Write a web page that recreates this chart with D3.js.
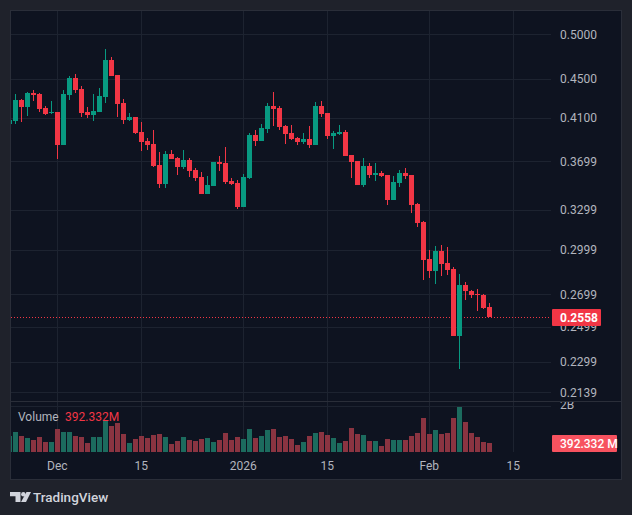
<!DOCTYPE html>
<html><head><meta charset="utf-8">
<script src="https://cdn.jsdelivr.net/npm/d3@7"></script>
<style>
html,body{margin:0;padding:0;background:#1f222b;}
svg{display:block;font-family:Roboto,"Noto Sans",sans-serif;}
</style>
</head><body>
<svg id="c" width="632" height="515"></svg>
<script>
// ---------- DATA ----------
const dates = [
"2025-11-23","2025-11-24","2025-11-25","2025-11-26","2025-11-27","2025-11-28","2025-11-29","2025-11-30",
"2025-12-01","2025-12-02","2025-12-03","2025-12-04","2025-12-05","2025-12-06","2025-12-07","2025-12-08","2025-12-09","2025-12-10",
"2025-12-11","2025-12-12","2025-12-13","2025-12-14","2025-12-15","2025-12-16","2025-12-17","2025-12-18","2025-12-19","2025-12-20",
"2025-12-21","2025-12-22","2025-12-23","2025-12-24","2025-12-25","2025-12-26","2025-12-27","2025-12-28","2025-12-29","2025-12-30","2025-12-31",
"2026-01-01","2026-01-02","2026-01-03","2026-01-04","2026-01-05","2026-01-06","2026-01-07","2026-01-08","2026-01-09","2026-01-10",
"2026-01-11","2026-01-12","2026-01-13","2026-01-14","2026-01-15","2026-01-16","2026-01-17","2026-01-18","2026-01-19","2026-01-20",
"2026-01-21","2026-01-22","2026-01-23","2026-01-24","2026-01-25","2026-01-26","2026-01-27","2026-01-28","2026-01-29","2026-01-30","2026-01-31",
"2026-02-01","2026-02-02","2026-02-03","2026-02-04","2026-02-05","2026-02-06","2026-02-07","2026-02-08","2026-02-09","2026-02-10","2026-02-11"
];
const opens = [
0.4042,0.4073,0.4279,0.4211,0.4350,0.4340,0.4201,0.4146,
0.4158,0.3845,0.4330,0.4508,0.4392,0.4158,0.4129,0.4158,0.4309,0.4704,
0.4540,0.4248,0.4080,0.4109,0.3966,0.3882,0.3855,0.3667,0.3506,0.3764,
0.3729,0.3650,0.3711,0.3624,0.3564,0.3423,0.3489,0.3693,0.3685,0.3531,0.3514,
0.3319,0.3556,0.3938,0.3882,0.3994,0.4218,0.4198,0.4023,0.3956,0.3910,
0.3873,0.3900,0.3845,0.4218,0.4149,0.3928,0.3947,0.3966,0.3755,0.3702,
0.3497,0.3659,0.3581,0.3598,0.3581,0.3375,0.3514,0.3598,0.3581,0.3343,0.3203,
0.2934,0.2852,0.2990,0.2907,0.2865,0.2444,0.2759,0.2720,0.2700,0.2694,0.2618
];
const highs = [
0.4100,0.4340,0.4289,0.4361,0.4381,0.4350,0.4218,0.4268,
0.4158,0.4381,0.4529,0.4551,0.4423,0.4208,0.4340,0.4402,0.4829,0.4738,
0.4540,0.4289,0.4149,0.4109,0.4061,0.3910,0.3985,0.3782,0.3791,0.3800,
0.3737,0.3800,0.3729,0.3641,0.3607,0.3573,0.3693,0.3746,0.3827,0.3556,0.3539,
0.3590,0.3956,0.3985,0.4042,0.4248,0.4361,0.4218,0.4032,0.4032,0.3919,
0.3956,0.4023,0.4258,0.4268,0.4149,0.3975,0.4032,0.3985,0.3755,0.3702,
0.3729,0.3685,0.3685,0.3615,0.3581,0.3573,0.3624,0.3641,0.3581,0.3351,0.3211,
0.2998,0.3026,0.3033,0.3019,0.2879,0.2832,0.2778,0.2726,0.2733,0.2700,0.2643
];
const lows = [
0.4032,0.4042,0.4064,0.4122,0.4272,0.4161,0.4129,0.4139,
0.3720,0.3845,0.4279,0.4350,0.4109,0.4100,0.4071,0.4158,0.4248,0.4529,
0.4109,0.4042,0.4071,0.3947,0.3791,0.3800,0.3650,0.3473,0.3473,0.3720,
0.3581,0.3633,0.3564,0.3531,0.3423,0.3423,0.3489,0.3615,0.3506,0.3497,0.3304,
0.3319,0.3547,0.3836,0.3882,0.3956,0.4023,0.3985,0.3855,0.3891,0.3845,
0.3855,0.3818,0.3845,0.4109,0.3900,0.3809,0.3938,0.3746,0.3556,0.3497,
0.3481,0.3556,0.3531,0.3564,0.3335,0.3375,0.3481,0.3547,0.3273,0.3166,0.2792,
0.2805,0.2765,0.2818,0.2825,0.2444,0.2260,0.2662,0.2675,0.2594,0.2606,0.2558
];
const closes = [
0.4080,0.4279,0.4211,0.4350,0.4330,0.4188,0.4139,0.4158,
0.3845,0.4340,0.4508,0.4381,0.4149,0.4129,0.4168,0.4319,0.4704,0.4529,
0.4238,0.4080,0.4109,0.3956,0.3873,0.3845,0.3659,0.3506,0.3764,0.3720,
0.3650,0.3711,0.3615,0.3556,0.3423,0.3497,0.3693,0.3676,0.3522,0.3506,0.3319,
0.3564,0.3938,0.3882,0.4004,0.4218,0.4188,0.4013,0.3947,0.3900,0.3873,
0.3900,0.3845,0.4218,0.4139,0.3928,0.3956,0.3966,0.3746,0.3693,0.3497,
0.3659,0.3581,0.3598,0.3573,0.3375,0.3522,0.3598,0.3573,0.3335,0.3196,0.2927,
0.2852,0.2990,0.2900,0.2859,0.2444,0.2759,0.2720,0.2694,0.2694,0.2612,0.2558
];
// volume in millions
const volumes = [
696,870,696,608,522,653,435,435,
1000,870,870,696,653,391,653,653,1348,1130,
1261,782,391,565,696,608,739,782,653,348,
479,653,522,479,565,608,435,522,826,522,653,
565,1000,608,696,956,1000,653,696,565,305,
435,696,826,870,739,608,391,479,1044,782,
739,479,479,260,565,522,522,522,696,826,1478,
782,956,782,826,1478,1957,1304,826,653,435,392.332
];
const priceTicks = [0.5000,0.4500,0.4100,0.3699,0.3299,0.2999,0.2699,0.2499,0.2299,0.2139];
const priceTickLabels = ["0.5000","0.4500","0.4100","0.3699","0.3299","0.2999","0.2699","0.2499","0.2299","0.2139"];
const timeTicks = ["2025-12-01","2025-12-15","2026-01-01","2026-01-15","2026-02-01","2026-02-15"];
const timeTickLabels = ["Dec","15","2026","15","Feb","15"];
const volumeTicks = [2000];
const volumeTickLabels = ["2B"];
const lastPrice = 0.2558;
const lastPriceLabel = "0.2558";
const lastVolumeLabel = "392.332 M";
const volumeLegendValue = "392.332M";

// ---------- LAYOUT ----------
const C = {
  outer:"#1f222b", bg:"#0e1320", border:"#2a2e39", grid:"#1d2330",
  text:"#b2b5be", up:"#089981", down:"#f23645", upVol:"#1c6b5e", downVol:"#8a3441"
};
const L = {left:10, right:551, top:10, paneBottom:401, volBottom:452, outerRight:621, outerBottom:479};

const parse = d3.utcParse("%Y-%m-%d");
const data = dates.map((d,i)=>({date:parse(d),o:opens[i],h:highs[i],l:lows[i],c:closes[i],v:volumes[i]}));

const svg = d3.select("#c");
svg.append("rect").attr("width",632).attr("height",515).attr("fill",C.outer);
svg.append("rect").attr("x",L.left+0.5).attr("y",L.top+0.5)
  .attr("width",L.outerRight-L.left).attr("height",L.outerBottom-L.top)
  .attr("fill",C.bg).attr("stroke",C.border);

const x = d3.scaleUtc()
  .domain([parse("2025-11-23"), parse("2026-02-21")])
  .range([9.3, 549.3]);
const y = d3.scaleLog().domain([0.2095,0.5297]).range([L.paneBottom, L.top]);
const yv = d3.scaleLinear().domain([0,2000]).range([L.volBottom, 406]);

const defs = svg.append("defs");
defs.append("clipPath").attr("id","pane").append("rect")
  .attr("x",L.left+1).attr("y",L.top+1).attr("width",L.right-L.left-1).attr("height",L.paneBottom-L.top-1);
defs.append("clipPath").attr("id","vpane").append("rect")
  .attr("x",L.left+1).attr("y",L.paneBottom+1).attr("width",L.right-L.left-1).attr("height",L.volBottom-L.paneBottom);
defs.append("clipPath").attr("id","vaxis").append("rect")
  .attr("x",L.right).attr("y",L.paneBottom+1).attr("width",70).attr("height",60);

// grid
const g = svg.append("g");
g.selectAll(".hg").data(priceTicks).join("line")
  .attr("x1",L.left+1).attr("x2",L.right)
  .attr("y1",d=>Math.round(y(d))+0.5).attr("y2",d=>Math.round(y(d))+0.5)
  .attr("stroke",C.grid);
g.selectAll(".vg").data(timeTicks).join("line")
  .attr("x1",d=>Math.round(x(parse(d)))+0.5).attr("x2",d=>Math.round(x(parse(d)))+0.5)
  .attr("y1",L.top+1).attr("y2",L.volBottom)
  .attr("stroke",C.grid);
g.selectAll(".vgh").data(volumeTicks).join("line")
  .attr("x1",L.left+1).attr("x2",L.right)
  .attr("y1",d=>Math.round(yv(d))+0.5).attr("y2",d=>Math.round(yv(d))+0.5)
  .attr("stroke",C.grid);
// pane separator
svg.append("line").attr("x1",L.left+1).attr("x2",L.outerRight)
  .attr("y1",L.paneBottom+0.5).attr("y2",L.paneBottom+0.5).attr("stroke",C.border);

// last price dotted line
svg.append("line").attr("clip-path","url(#pane)")
  .attr("x1",L.left+1).attr("x2",L.right)
  .attr("y1",Math.round(y(lastPrice))+0.5).attr("y2",Math.round(y(lastPrice))+0.5)
  .attr("stroke",C.down).attr("stroke-dasharray","1,2");

// candles
const cg = svg.append("g").attr("clip-path","url(#pane)");
const cand = cg.selectAll("g").data(data).join("g");
cand.append("rect")
  .attr("x",d=>Math.round(x(d.date)-2.5)+2).attr("width",1)
  .attr("y",d=>Math.round(y(d.h))).attr("height",d=>Math.max(1,Math.round(y(d.l))-Math.round(y(d.h))))
  .attr("fill",d=>d.c>=d.o?C.up:C.down);
cand.append("rect")
  .attr("x",d=>Math.round(x(d.date)-2.5)).attr("width",5)
  .attr("y",d=>Math.round(y(Math.max(d.o,d.c))))
  .attr("height",d=>Math.max(1,Math.round(y(Math.min(d.o,d.c)))-Math.round(y(Math.max(d.o,d.c)))))
  .attr("fill",d=>d.c>=d.o?C.up:C.down);

// volume
svg.append("g").attr("clip-path","url(#vpane)")
  .selectAll("rect").data(data).join("rect")
  .attr("x",d=>Math.round(x(d.date)-2.5)).attr("width",5)
  .attr("y",d=>Math.round(yv(d.v))).attr("height",d=>L.volBottom-Math.round(yv(d.v)))
  .attr("fill",d=>d.c>=d.o?C.upVol:C.downVol);

// price axis labels
svg.append("g").selectAll("text").data(priceTicks).join("text")
  .attr("x",560).attr("y",d=>y(d)).attr("dy","0.36em")
  .attr("fill",C.text).attr("font-size",12)
  .text((d,i)=>priceTickLabels[i]);
// volume axis labels
svg.append("g").attr("clip-path","url(#vaxis)").selectAll("text").data(volumeTicks).join("text")
  .attr("x",560).attr("y",d=>yv(d)-1).attr("dy","0.36em")
  .attr("fill",C.text).attr("font-size",12)
  .text((d,i)=>volumeTickLabels[i]);

// last price box
const yl = Math.round(y(lastPrice))+0.5;
svg.append("rect").attr("x",552).attr("y",yl-8.5).attr("width",49).attr("height",17).attr("rx",1).attr("fill",C.down);
svg.append("text").attr("x",560).attr("y",yl).attr("dy","0.36em").attr("fill","#ffffff")
  .attr("font-size",12).attr("font-weight",700).text(lastPriceLabel);

// last volume box
const yvl = Math.round(yv(volumes[volumes.length-1]));
svg.append("rect").attr("x",552).attr("y",yvl-8).attr("width",65).attr("height",17).attr("rx",1).attr("fill","#f7525f");
svg.append("text").attr("x",560).attr("y",yvl+0.5).attr("dy","0.36em").attr("fill","#ffffff")
  .attr("font-size",12).attr("font-weight",500).text(lastVolumeLabel);

// time axis labels
svg.append("g").selectAll("text").data(timeTicks).join("text")
  .attr("x",d=>x(parse(d))).attr("y",466).attr("dy","0.36em").attr("text-anchor","middle")
  .attr("fill",C.text).attr("font-size",12)
  .text((d,i)=>timeTickLabels[i]);

// volume legend
const lg = svg.append("text").attr("x",18).attr("y",417).attr("dy","0.36em").attr("font-size",12);
lg.append("tspan").attr("fill",C.text).text("Volume");
lg.append("tspan").attr("x",65).attr("fill",C.down).text(volumeLegendValue);

// TradingView logo
const logo = svg.append("g").attr("fill","#d1d4dc");
logo.append("path").attr("d","M10,492 H20.5 V502 H15.5 V496.2 H10 Z");
logo.append("circle").attr("cx",23.3).attr("cy",494.2).attr("r",2.2);
logo.append("path").attr("d","M26.5,492 H31 L26,502 H21 Z");
svg.append("text").attr("x",33).attr("y",497).attr("dy","0.36em").attr("font-size",13.5)
  .attr("font-weight",500).attr("fill","#d1d4dc").text("TradingView");
</script>
</body></html>
